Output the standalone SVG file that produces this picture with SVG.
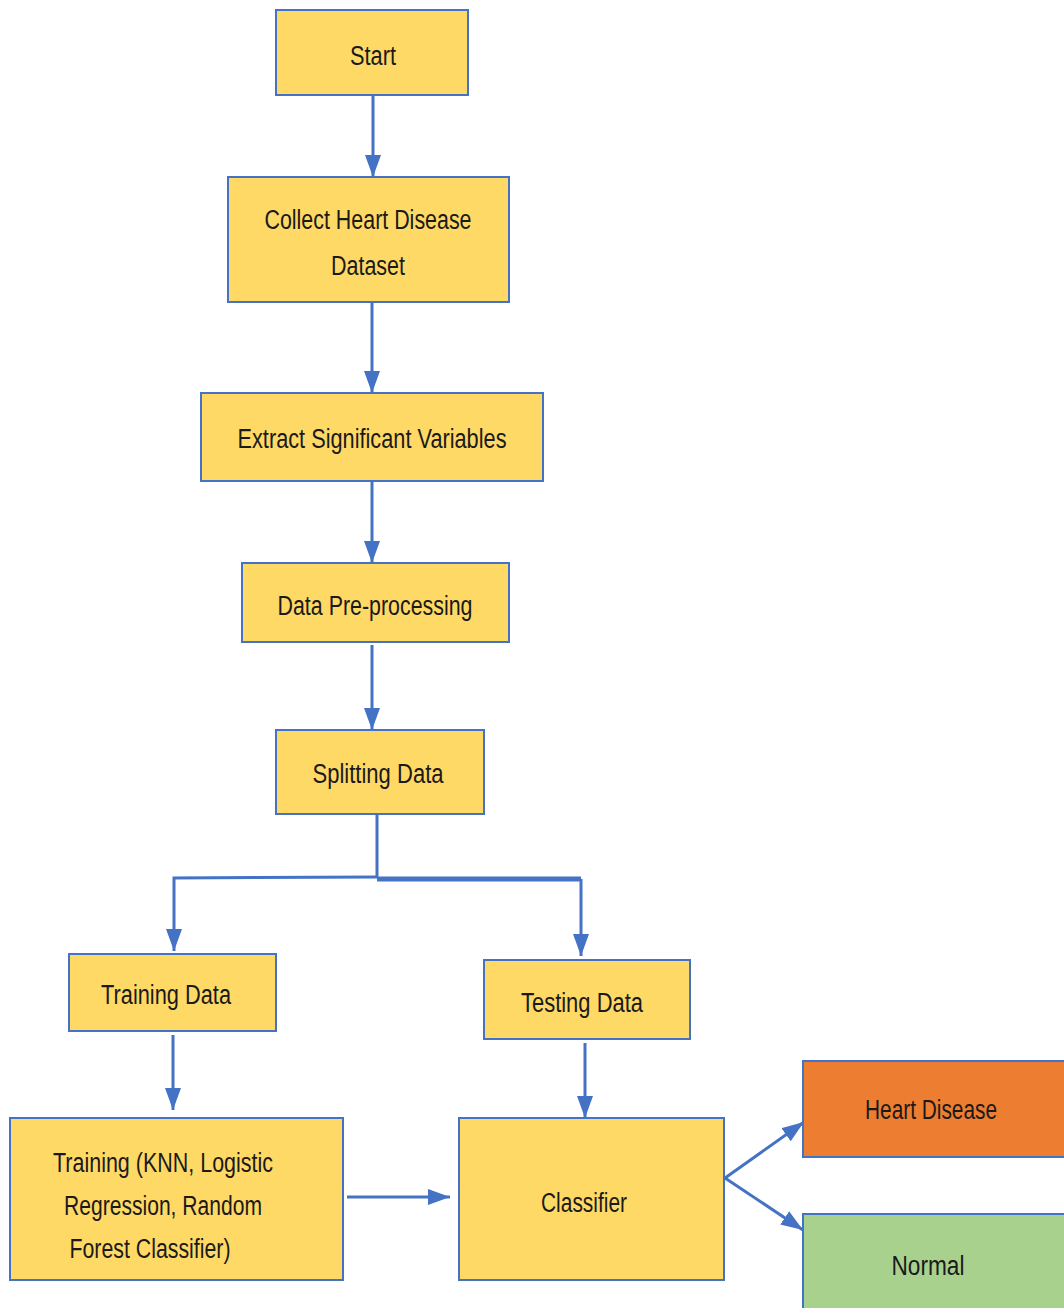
<svg xmlns="http://www.w3.org/2000/svg" width="1064" height="1308" viewBox="0 0 1064 1308">
<style>
.box{stroke:#4472C4;stroke-width:2}
.y{fill:#FFD966}
.o{fill:#ED7D31}
.g{fill:#A9D18E}
.t{font-family:"Liberation Sans",Arial,sans-serif;font-size:27px;fill:#1a1a1a;text-anchor:middle}
.c{stroke:#4472C4;stroke-width:3;fill:none}
</style>
<defs>
<marker id="ah" markerUnits="userSpaceOnUse" markerWidth="24" markerHeight="16" refX="22" refY="8" orient="auto">
<path d="M0,0 L22,8 L0,16 Z" fill="#4472C4"/>
</marker>
</defs>
<rect width="1064" height="1308" fill="#ffffff"/>
<g id="connectors">
<line class="c" x1="373" y1="96" x2="373" y2="177" marker-end="url(#ah)"/>
<line class="c" x1="372" y1="303" x2="372" y2="393" marker-end="url(#ah)"/>
<line class="c" x1="372" y1="482" x2="372" y2="563" marker-end="url(#ah)"/>
<line class="c" x1="372" y1="645" x2="372" y2="730" marker-end="url(#ah)"/>
<polyline class="c" points="377,815 377,878"/>
<polyline class="c" points="377,877 174,878 174,951" marker-end="url(#ah)"/>
<polyline class="c" points="377,879 581,879" style="stroke-width:5"/>
<polyline class="c" points="581,879 581,956" marker-end="url(#ah)"/>
<line class="c" x1="173" y1="1035" x2="173" y2="1110" marker-end="url(#ah)"/>
<line class="c" x1="585" y1="1043" x2="585" y2="1118" marker-end="url(#ah)"/>
<line class="c" x1="347" y1="1197" x2="450" y2="1197" marker-end="url(#ah)"/>
<line class="c" x1="725" y1="1178" x2="804" y2="1122" marker-end="url(#ah)"/>
<line class="c" x1="725" y1="1178" x2="803" y2="1230" marker-end="url(#ah)"/>
</g>
<g id="start"><rect class="box y" x="276" y="10" width="192" height="85"/><text class="t" x="373" y="65" textLength="46" lengthAdjust="spacingAndGlyphs">Start</text></g>
<g id="collect"><rect class="box y" x="228" y="177" width="281" height="125"/><text class="t" x="368" y="229" textLength="207" lengthAdjust="spacingAndGlyphs">Collect Heart Disease</text><text class="t" x="368" y="275" textLength="74" lengthAdjust="spacingAndGlyphs">Dataset</text></g>
<g id="extract"><rect class="box y" x="201" y="393" width="342" height="88"/><text class="t" x="372" y="448" textLength="269" lengthAdjust="spacingAndGlyphs">Extract Significant Variables</text></g>
<g id="preprocess"><rect class="box y" x="242" y="563" width="267" height="79"/><text class="t" x="375" y="615" textLength="195" lengthAdjust="spacingAndGlyphs">Data Pre-processing</text></g>
<g id="split"><rect class="box y" x="276" y="730" width="208" height="84"/><text class="t" x="378" y="783" textLength="131" lengthAdjust="spacingAndGlyphs">Splitting Data</text></g>
<g id="trainingdata"><rect class="box y" x="69" y="954" width="207" height="77"/><text class="t" x="166" y="1004" textLength="130" lengthAdjust="spacingAndGlyphs">Training Data</text></g>
<g id="testingdata"><rect class="box y" x="484" y="960" width="206" height="79"/><text class="t" x="582" y="1012" textLength="122" lengthAdjust="spacingAndGlyphs">Testing Data</text></g>
<g id="training"><rect class="box y" x="10" y="1118" width="333" height="162"/><text class="t" x="163" y="1172" textLength="220" lengthAdjust="spacingAndGlyphs">Training (KNN, Logistic</text><text class="t" x="163" y="1215" textLength="198" lengthAdjust="spacingAndGlyphs">Regression, Random</text><text class="t" x="150" y="1258" textLength="161" lengthAdjust="spacingAndGlyphs">Forest Classifier)</text></g>
<g id="classifier"><rect class="box y" x="459" y="1118" width="265" height="162"/><text class="t" x="584" y="1212" textLength="86" lengthAdjust="spacingAndGlyphs">Classifier</text></g>
<g id="heartdisease"><rect class="box o" x="803" y="1061" width="270" height="96"/><text class="t" x="931" y="1119" textLength="132" lengthAdjust="spacingAndGlyphs">Heart Disease</text></g>
<g id="normal"><rect class="box g" x="803" y="1214" width="270" height="100"/><text class="t" x="928" y="1275" textLength="73" lengthAdjust="spacingAndGlyphs">Normal</text></g>
</svg>
